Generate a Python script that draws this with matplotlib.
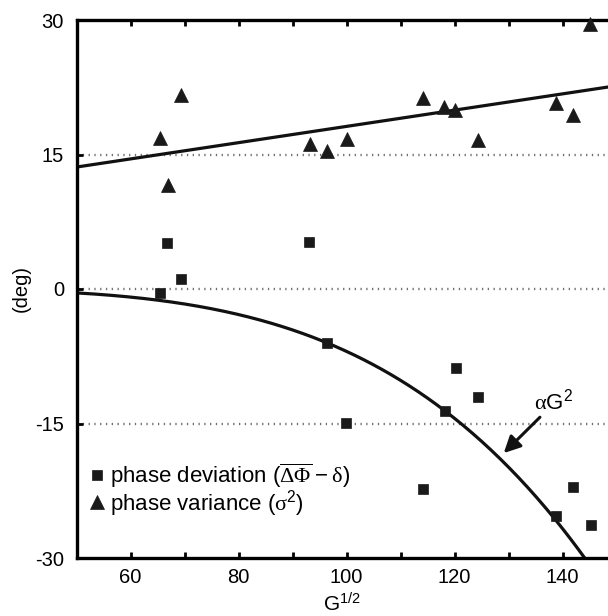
import numpy as np
import matplotlib
matplotlib.use("Agg")
import matplotlib.pyplot as plt
from matplotlib.ticker import MultipleLocator

plt.rcParams['font.family'] = ['Liberation Sans', 'DejaVu Sans']
plt.rcParams['mathtext.fontset'] = 'custom'
plt.rcParams['mathtext.rm'] = 'Liberation Serif'
plt.rcParams['mathtext.default'] = 'regular'

# phase deviation (squares)
dev_x = [65.4, 66.8, 69.4, 93.1, 96.3, 99.9, 114.2, 118.2, 120.2, 124.4, 138.8, 142.0, 145.2]
dev_y = [-0.4, 5.1, 1.1, 5.2, -6.05, -14.9, -22.3, -13.6, -8.8, -12.0, -25.3, -22.1, -26.3]

# phase variance (triangles)
var_x = [65.4, 66.9, 69.4, 93.2, 96.3, 100.0, 114.1, 118.0, 120.1, 124.4, 138.7, 142.0, 145.1]
var_y = [16.8, 11.6, 21.6, 16.2, 15.4, 16.7, 21.3, 20.3, 20.0, 16.6, 20.7, 19.4, 29.6]

# fitted models
var_fit_intercept = 13.6   # value at x = 50
var_fit_slope = 0.0907
alpha = 6.96e-8            # deviation = -alpha * G^2, with x = G^(1/2)

xlim = (50, 148.4)
ylim = (-30, 30)
yticks = [-30, -15, 0, 15, 30]
ytick_labels = ['-30', '-15', '0', '15', '30']
xticks = [60, 80, 100, 120, 140]
grid_levels = [15, 0, -15]

fig = plt.figure(figsize=(6.08, 6.16), dpi=100)
ax = fig.add_axes([76.5 / 608, 58 / 616, 1 - 76.5 / 608, 538 / 616])

for g in grid_levels:
    ax.axhline(g, color='#707070', lw=1.7, linestyle=(0, (0.55, 1.9)), zorder=1)

xs = np.linspace(xlim[0], xlim[1], 300)
ax.plot(xs, var_fit_intercept + var_fit_slope * (xs - 50), color='#111111', lw=2.3, zorder=2)
xc = np.linspace(xlim[0], 146, 400)
ax.plot(xc, -alpha * xc ** 4, color='#111111', lw=2.3, zorder=2)

h1, = ax.plot(dev_x, dev_y, 's', color='#1a1a1a', ms=7.2, mec='#1a1a1a', mew=0.5, zorder=3, clip_on=False,
              label=r'phase deviation ($\overline{\mathrm{\Delta\Phi}}-\mathrm{\delta}$)')
h2, = ax.plot(var_x, var_y, '^', color='#1a1a1a', ms=10.5, mec='#1a1a1a', mew=0.5, zorder=3, clip_on=False,
              label=r'phase variance ($\mathrm{\sigma}^{2}$)')

ax.annotate('', xy=(129.1, -18.3), xytext=(135.8, -14.3),
            arrowprops=dict(arrowstyle='-|>,head_length=1.0,head_width=0.5', lw=2.2, color='#111111',
                            shrinkA=0, shrinkB=0))
ax.text(138.4, -12.5, r'$\mathrm{\alpha}G^{2}$', ha='center', va='center', fontsize=16)

ax.set_xlim(*xlim)
ax.set_ylim(*ylim)
ax.set_xticks(xticks)
ax.xaxis.set_minor_locator(MultipleLocator(10))
ax.set_yticks(yticks)
ax.set_yticklabels(ytick_labels)

for s in ['left', 'top', 'bottom']:
    ax.spines[s].set_linewidth(2.4)
ax.spines['right'].set_visible(False)

ax.tick_params(axis='x', which='both', direction='in', top=True, length=4, width=2, labelsize=14.5, pad=7)
ax.tick_params(axis='y', which='both', direction='in', length=4, width=2, labelsize=14.5, pad=9)

ax.set_xlabel(r'G$^{1/2}$', fontsize=15, labelpad=4)
ax.set_ylabel('(deg)', fontsize=14.5, labelpad=3)

leg = ax.legend(handles=[h1, h2], loc='upper left', bbox_to_anchor=(89 / 608, 1 - 461 / 616),
                bbox_transform=fig.transFigure, frameon=False, fontsize=16,
                handlelength=0.7, handletextpad=0.25, labelspacing=-0.08, borderpad=0, borderaxespad=0,
                markerscale=1.0)

fig.savefig('out.png', dpi=100)
